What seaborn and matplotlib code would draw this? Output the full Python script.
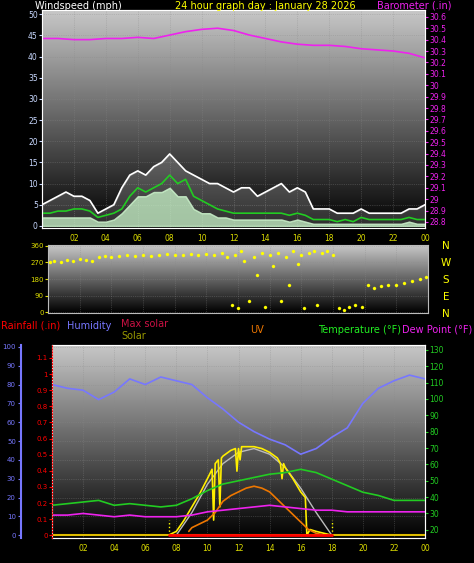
import numpy as np
import pandas as pd
import matplotlib
matplotlib.use("Agg")
import matplotlib.pyplot as plt
import seaborn as sns

sns.set_style("dark")
plt.rcParams['font.family'] = ['DejaVu Sans']

# ---- data ----
half_hours = np.arange(0, 24.5, 0.5)
wind_gust = [5, 6, 7, 8, 7, 7, 6, 3, 4, 5, 9, 12, 13, 12, 14, 15, 17, 15, 13, 12, 11, 10, 10, 9, 8,
             9, 9, 7, 8, 9, 10, 8, 9, 8, 4, 4, 4, 3, 3, 3, 4, 3, 3, 3, 3, 3, 4, 4, 5]
wind_avg = [3, 3, 3.5, 3.5, 4, 4, 3.5, 2, 2.5, 3, 4, 7, 9, 8, 9, 10, 12, 10, 11, 7, 6, 5, 4, 3.5, 3,
            3, 3, 3, 3, 3, 3, 2.5, 3, 2.5, 1.5, 1.5, 1.5, 1, 1.5, 1, 2, 1.5, 1.5, 1.5, 1.5, 1.5, 2, 1.5, 1.5]
wind_low = [2, 2, 2, 2, 2, 2, 2, 1, 1, 1.5, 3, 5, 7, 7, 8, 8, 9, 7, 7, 4, 3, 3, 2, 2, 1.5,
            1.5, 1.5, 1.5, 1.5, 1.5, 1.5, 1, 1.5, 1, 0.5, 0.5, 0.5, 0.5, 0.5, 0.5, 0.5, 0.5, 0.5, 0.5, 0.5, 0.5, 1, 0.5, 0.5]

hours = np.arange(0, 25)
barometer = [30.41, 30.41, 30.40, 30.40, 30.41, 30.41, 30.42, 30.41, 30.44, 30.47, 30.49, 30.50, 30.48,
             30.44, 30.41, 30.38, 30.36, 30.35, 30.35, 30.34, 30.32, 30.31, 30.30, 30.28, 30.24]

dir_time = [0.1, 0.4, 0.8, 1.2, 1.6, 2.0, 2.4, 2.8, 3.2, 3.6, 4.0, 4.5, 5.0, 5.5, 6.0, 6.5, 7.0, 7.5, 8.0,
            8.5, 9.0, 9.5, 10.0, 10.5, 11.0, 11.3, 11.6, 11.8, 12.0, 12.2, 12.4, 12.7, 13.0, 13.2, 13.5,
            13.7, 14.0, 14.2, 14.5, 14.7, 15.0, 15.2, 15.5, 15.8, 16.0, 16.2, 16.5, 16.8, 17.0, 17.3,
            17.6, 18.0, 18.4, 18.7, 19.0, 19.4, 19.8, 20.2, 20.6, 21.0, 21.5, 22.0, 22.5, 23.0, 23.5, 23.9]
dir_deg = [270, 280, 275, 285, 280, 290, 285, 280, 300, 305, 300, 305, 310, 305, 310, 305, 310, 315, 310,
           310, 315, 310, 315, 310, 320, 300, 40, 310, 20, 330, 280, 60, 300, 200, 320, 30, 310, 250,
           320, 60, 300, 150, 330, 260, 310, 20, 320, 330, 40, 320, 330, 310, 20, 10, 30, 40, 30, 150,
           130, 140, 150, 150, 160, 170, 180, 190]

humidity = [80, 78, 77, 72, 76, 83, 80, 84, 82, 80, 73, 67, 60, 55, 51, 48, 43, 46, 52, 57, 70, 78, 82, 85, 83]
temperature = [35, 36, 37, 38, 35, 36, 35, 34, 35, 39, 44, 48, 50, 52, 54, 55, 57, 55, 51, 47, 43, 41, 38, 38, 38]
dew_point = [29, 29, 30, 29, 28, 29, 28, 28, 28, 29, 31, 32, 33, 34, 35, 34, 33, 32, 32, 31, 31, 31, 31, 31, 31]

solar_time = [7.5, 8, 8.5, 9, 9.5, 10, 10.3, 10.4, 10.5, 10.7, 10.8, 10.9, 11, 11.5, 11.8, 11.9, 12.0, 12.1,
              12.2, 12.5, 13, 13.5, 14, 14.5, 14.7, 14.8, 14.9, 15, 15.5, 16, 16.3, 16.4, 16.6, 17, 17.5, 18]
solar = [0, 2, 8, 15, 22, 30, 35, 8, 38, 40, 15, 41, 42, 45, 46, 34, 46, 40, 47, 47, 47, 46, 44, 41, 38,
         30, 38, 36, 30, 23, 20, 0, 3, 2, 1, 0]
max_solar_time = [8, 9, 10, 11, 12, 13, 14, 15, 16, 17, 18]
max_solar = [0, 12, 27, 38, 44, 46, 43, 36, 25, 12, 0]
uv_time = [8.8, 9, 9.5, 10, 10.5, 11, 11.5, 12, 12.5, 13, 13.5, 14, 14.5, 15, 15.5, 16, 16.5, 17, 17.5]
uv = [2, 4, 6, 8, 12, 18, 21, 23, 25, 26, 25, 23, 19, 15, 11, 7, 3, 1, 0]

tick_pos = list(range(2, 25, 2))
tick_labels = ["02", "04", "06", "08", "10", "12", "14", "16", "18", "20", "22", "00"]

W, H = 474, 563
fig = plt.figure(figsize=(W / 100, H / 100), dpi=100, facecolor="black")


def box(x0, y0, x1, y1):
    return fig.add_axes([x0 / W, 1 - y1 / H, (x1 - x0) / W, (y1 - y0) / H])


def background(ax):
    grad = np.linspace(0.78, 0.0, 200).reshape(-1, 1)
    ax.imshow(grad, aspect="auto", cmap="gray", vmin=0, vmax=1,
              extent=[0, 24, *ax.get_ylim()], origin="upper", zorder=0)
    ax.grid(True, color="#8a8a8a", linewidth=0.5, linestyle=":", alpha=0.6)
    for s in ax.spines.values():
        s.set_color("#bbbbbb")


def style_ticks(ax, color, side="left", size=5.5):
    ax.tick_params(axis="y", colors=color, labelsize=size, length=2, pad=1,
                   left=side == "left", labelleft=side == "left",
                   right=side == "right", labelright=side == "right")


# ---- top: wind ----
ax1 = box(42, 10, 425, 228)
ax1.set_xlim(0, 24)
ax1.set_ylim(-0.5, 51)
background(ax1)
df_w = pd.DataFrame({"t": half_hours, "gust": wind_gust, "avg": wind_avg, "low": wind_low})
ax1.fill_between(df_w.t, df_w.low, df_w.gust, color="white", alpha=0.18, zorder=2)
ax1.fill_between(df_w.t, 0, df_w.low, color="#ccf5cc", alpha=0.8, zorder=2)
sns.lineplot(data=df_w, x="t", y="gust", ax=ax1, color="white", linewidth=1.2, zorder=3)
sns.lineplot(data=df_w, x="t", y="avg", ax=ax1, color="#22cc22", linewidth=1.2, zorder=4)
ax1.set_yticks(range(0, 51, 5))
style_ticks(ax1, "#c8d8ff")
ax1.set_xticks(tick_pos)
ax1.set_xticklabels(tick_labels)
ax1.tick_params(axis="x", colors="#dddd00", labelsize=5.5, length=2, pad=2)
ax1.set_xlabel("")
ax1.set_ylabel("")

ax1b = ax1.twinx()
ax1b.set_ylim(28.747, 30.66)
sns.lineplot(x=hours, y=barometer, ax=ax1b, color="#ee22ee", linewidth=1.2)
ax1b.set_yticks(np.round(np.arange(28.8, 30.61, 0.1), 1))
ax1b.set_yticklabels([f"{v:g}" for v in np.round(np.arange(28.8, 30.61, 0.1), 1)])
style_ticks(ax1b, "#ee22ee", side="right")
ax1b.set_xlim(0, 24)

fig.text(35 / W, 1 - 6 / H, "Windspeed (mph)", color="white", fontsize=7, va="center")
fig.text(175 / W, 1 - 6 / H, "24 hour graph day : January 28 2026", color="yellow", fontsize=7, va="center")
fig.text(377 / W, 1 - 6 / H, "Barometer (.in)", color="#ee22ee", fontsize=7, va="center")

# ---- middle: wind direction ----
ax2 = box(48, 245, 428, 313)
ax2.set_xlim(0, 24)
ax2.set_ylim(-5, 365)
background(ax2)
sns.scatterplot(x=dir_time, y=dir_deg, ax=ax2, color="yellow", s=5, edgecolor=None, zorder=3)
ax2.set_yticks([0, 90, 180, 270, 360])
style_ticks(ax2, "#dddd00", size=5)
ax2.set_xticks(tick_pos)
ax2.tick_params(axis="x", labelbottom=False, length=0)
for lab, y in zip(["N", "W", "S", "E", "N"], [246, 263, 280, 297, 314]):
    fig.text(446 / W, 1 - y / H, lab, color="yellow", fontsize=7.5, va="center", ha="center")

# ---- bottom: temperature / humidity / solar ----
ax3 = box(52, 345, 425, 538)
ax3.set_xlim(0, 24)
ax3.set_ylim(-1.5, 101)
background(ax3)
df_h = pd.DataFrame({"t": hours, "hum": humidity, "temp": temperature, "dew": dew_point})
sns.lineplot(data=df_h, x="t", y="hum", ax=ax3, color="#7777ff", linewidth=1.2, zorder=3)
sns.lineplot(x=max_solar_time, y=max_solar, ax=ax3, color="#bbbbbb", linewidth=1.0, zorder=3)
sns.lineplot(x=solar_time, y=solar, ax=ax3, color="#ffee00", linewidth=1.2, zorder=4)
sns.lineplot(x=uv_time, y=uv, ax=ax3, color="#ee7700", linewidth=1.2, zorder=4)
ax3.plot([0, 24], [0, 0], color="#ddbb00", linewidth=1.5, zorder=4)
ax3.plot([7.5, 18], [0, 0], color="red", linewidth=2, zorder=5)
ax3.vlines([7.5, 18], 0, 8, colors="yellow", linestyles=":", linewidth=1, zorder=4)
ax3.set_yticks(range(0, 101, 10))
style_ticks(ax3, "#7777ff", size=5)
ax3.tick_params(axis="y", pad=2, length=2)
ax3.set_xticks(tick_pos)
ax3.set_xticklabels(tick_labels)
ax3.tick_params(axis="x", colors="#dddd00", labelsize=5.5, length=2, pad=2)
ax3.set_xlabel("")
ax3.set_ylabel("")
ax3.spines["left"].set_position(("outward", 22))
ax3.spines["left"].set_color("#7777ff")
ax3.spines["left"].set_linewidth(1.5)

ax3r = ax3.twinx()
ax3r.set_ylim(15, 133)
sns.lineplot(data=df_h, x="t", y="temp", ax=ax3r, color="#22cc22", linewidth=1.2)
sns.lineplot(data=df_h, x="t", y="dew", ax=ax3r, color="#ee22ee", linewidth=1.2)
ax3r.set_yticks(range(20, 131, 10))
style_ticks(ax3r, "#22cc22", side="right", size=5.5)
ax3r.set_xlim(0, 24)
ax3r.set_ylabel("")

# rainfall axis (red) drawn as inner left scale
ax_rain = fig.add_axes(ax3.get_position())
ax_rain.patch.set_visible(False)
ax_rain.set_ylim(-0.017, 1.18)
ax_rain.set_yticks(np.round(np.arange(0, 1.11, 0.1), 1))
ax_rain.set_yticklabels([f"{v:g}" for v in np.round(np.arange(0, 1.11, 0.1), 1)])
style_ticks(ax_rain, "red", size=5)
ax_rain.set_xticks([])
for s in ["top", "right", "bottom"]:
    ax_rain.spines[s].set_visible(False)
ax_rain.spines["left"].set_color("red")
ax_rain.spines["left"].set_linestyle(":")

fig.text(1 / W, 1 - 326 / H, "Rainfall (.in)", color="red", fontsize=7, va="center")
fig.text(67 / W, 1 - 326 / H, "Humidity", color="#7777ff", fontsize=7, va="center")
fig.text(121 / W, 1 - 324 / H, "Max solar", color="#cc1144", fontsize=7, va="center")
fig.text(121 / W, 1 - 336 / H, "Solar", color="#999900", fontsize=7, va="center")
fig.text(250 / W, 1 - 330 / H, "UV", color="#ee7700", fontsize=7, va="center")
fig.text(318 / W, 1 - 330 / H, "Temperature (°F)", color="#22ee22", fontsize=7, va="center")
fig.text(402 / W, 1 - 330 / H, "Dew Point (°F)", color="#ee22ee", fontsize=7, va="center")

fig.savefig("out.png", dpi=100, facecolor="black")
